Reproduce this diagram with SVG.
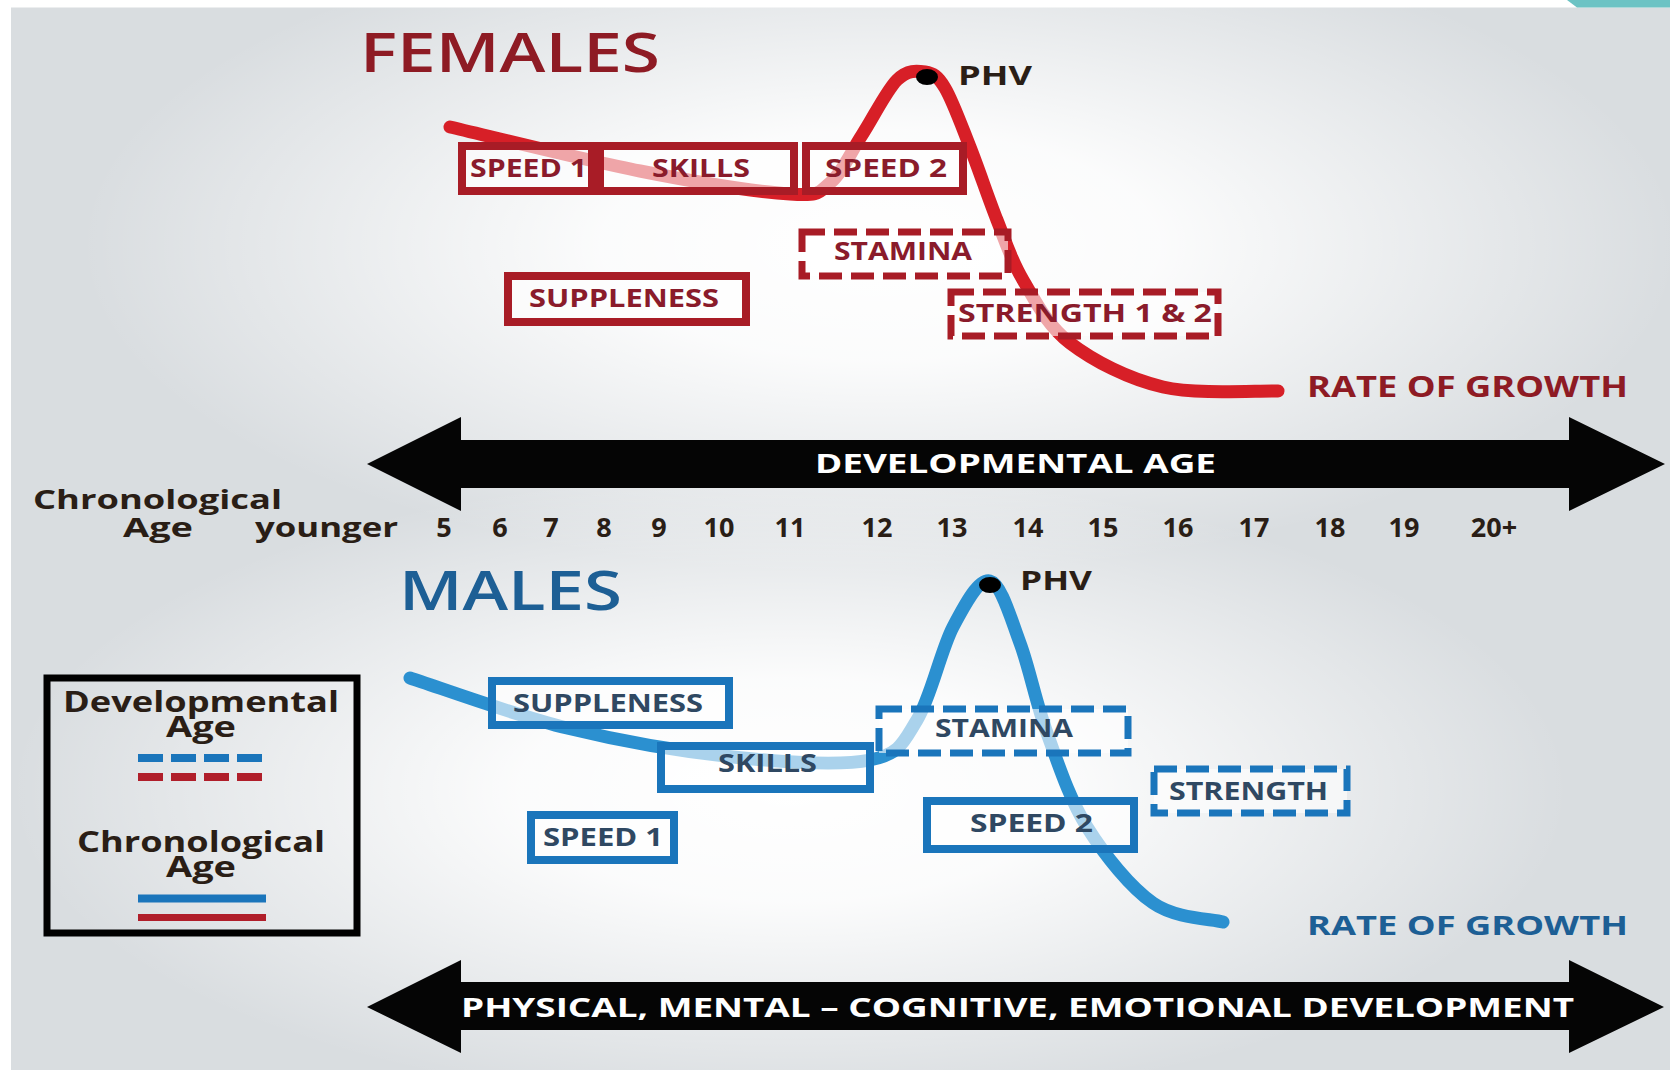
<svg xmlns="http://www.w3.org/2000/svg" width="1670" height="1070" viewBox="0 0 1670 1070">
<defs>
<radialGradient id="glow" cx="0.5" cy="0.5" r="0.5">
<stop offset="0" stop-color="#ffffff" stop-opacity="1"/>
<stop offset="0.35" stop-color="#ffffff" stop-opacity="0.9"/>
<stop offset="1" stop-color="#ffffff" stop-opacity="0"/>
</radialGradient>
<style>
.t{font-family:"Open Sans","Noto Sans","Liberation Sans",sans-serif;font-weight:700}
.title{font-family:"Open Sans","Noto Sans","Liberation Sans",sans-serif;font-weight:600;font-size:54px}
.fbox{fill:#ffffff;fill-opacity:0.6;stroke:#a81c26;stroke-width:8}
.mbox{fill:#ffffff;fill-opacity:0.6;stroke:#1a75bb;stroke-width:8}
.dash{stroke-dasharray:23 9;stroke-width:7}
.ft{fill:#8a1b2b;font-size:25px}
.mt{fill:#2f4862;font-size:25px}
.dk{fill:#2a1e16}
.wt{fill:#ffffff}
.curveF{fill:none;stroke:#d71f27;stroke-width:13;stroke-linecap:round}
.curveM{fill:none;stroke:#2b90d0;stroke-width:13;stroke-linecap:round}
</style>
</defs>
<g id="background">
<rect x="0" y="0" width="1670" height="1070" fill="#ffffff"/>
<rect x="11" y="7.5" width="1659" height="1062.5" fill="#d9dde0"/>
<ellipse cx="880" cy="245" rx="800" ry="330" fill="url(#glow)"/>
<ellipse cx="790" cy="790" rx="780" ry="320" fill="url(#glow)"/>
<polygon points="1567,0 1670,0 1670,7.5 1577,7.5" fill="#6cc3c4"/>
</g>
<g id="connectors">
<path class="curveF" d="M450,127 C481.7,134.3 583.3,159.8 640,171 C696.7,182.2 758.3,192 790,194 C821.7,196 818,192.8 830,183 C842,173.2 850.8,152.2 862,135 C873.2,117.8 886.5,90.5 897,80 C907.5,69.5 917,70.7 925,72 C933,73.3 937.5,75.5 945,88 C952.5,100.5 961.3,125 970,147 C978.7,169 988.2,197.8 997,220 C1005.8,242.2 1010.8,259.5 1023,280 C1035.2,300.5 1046.7,325.2 1070,343 C1093.3,360.8 1128.3,379 1163,387 C1197.7,395 1258.8,390.3 1278,391"/>
<path class="curveM" d="M410,678 C436.2,686.3 513.2,714.8 567,728 C620.8,741.2 682.5,751.7 733,757 C783.5,762.3 839.3,766.2 870,760 C900.7,753.8 903.2,742.2 917,720 C930.8,697.8 940.8,650.2 953,627 C965.2,603.8 978.8,578.3 990,581 C1001.2,583.7 1010.5,617.7 1020,643 C1029.5,668.3 1035.8,702.3 1047,733 C1058.2,763.7 1069.3,798.7 1087,827 C1104.7,855.3 1130.3,887.2 1153,903 C1175.7,918.8 1211.3,918.8 1223,922"/>
</g>
<g id="females-title"><text class="title" x="360" y="72" fill="#8e1b24" textLength="300" lengthAdjust="spacingAndGlyphs">FEMALES</text></g>
<g id="f-phv">
<ellipse cx="927" cy="77" rx="11" ry="8" fill="#000"/>
<text class="t dk" x="958" y="85" font-size="27" textLength="74" lengthAdjust="spacingAndGlyphs">PHV</text>
</g>
<g id="f-speed1"><rect class="fbox" x="462" y="146" width="130" height="45"/><text class="t ft" x="470" y="177" textLength="117" lengthAdjust="spacingAndGlyphs">SPEED 1</text></g>
<g id="f-skills"><rect class="fbox" x="600" y="146" width="194" height="45"/><text class="t ft" x="652" y="177" textLength="98" lengthAdjust="spacingAndGlyphs">SKILLS</text></g>
<g id="f-speed2"><rect class="fbox" x="806" y="146" width="157" height="45"/><text class="t ft" x="825" y="177" textLength="122" lengthAdjust="spacingAndGlyphs">SPEED 2</text></g>
<g id="f-stamina"><rect class="fbox dash" x="802" y="232" width="206" height="44"/><text class="t ft" x="834" y="260" textLength="138" lengthAdjust="spacingAndGlyphs">STAMINA</text></g>
<g id="f-suppleness"><rect class="fbox" x="508" y="276" width="238" height="46"/><text class="t ft" x="529" y="307" textLength="190" lengthAdjust="spacingAndGlyphs">SUPPLENESS</text></g>
<g id="f-strength"><rect class="fbox dash" x="951" y="292" width="267" height="44"/><text class="t ft" x="958" y="322" textLength="254" lengthAdjust="spacingAndGlyphs">STRENGTH 1 &amp; 2</text></g>
<g id="f-rate"><text class="t" x="1307" y="397" font-size="28" fill="#8e1b24" textLength="321" lengthAdjust="spacingAndGlyphs">RATE OF GROWTH</text></g>
<g id="arrow-dev">
<polygon points="367,464 461,417 461,440 1569,440 1569,417 1665,464 1569,511 1569,488 461,488 461,511" fill="#050505"/>
<text class="t wt" x="815" y="473" font-size="26" textLength="401" lengthAdjust="spacingAndGlyphs">DEVELOPMENTAL AGE</text>
</g>
<g id="chrono-row" class="t dk" font-size="27">
<text x="33" y="509" textLength="249" lengthAdjust="spacingAndGlyphs">Chronological</text>
<text x="123" y="537" textLength="70" lengthAdjust="spacingAndGlyphs">Age</text>
<text x="255" y="537" textLength="143" lengthAdjust="spacingAndGlyphs">younger</text>
<g text-anchor="middle">
<text x="444" y="537">5</text>
<text x="500" y="537">6</text>
<text x="551" y="537">7</text>
<text x="604" y="537">8</text>
<text x="659" y="537">9</text>
<text x="719" y="537">10</text>
<text x="790" y="537">11</text>
<text x="877" y="537">12</text>
<text x="952" y="537">13</text>
<text x="1028" y="537">14</text>
<text x="1103" y="537">15</text>
<text x="1178" y="537">16</text>
<text x="1254" y="537">17</text>
<text x="1330" y="537">18</text>
<text x="1404" y="537">19</text>
<text x="1494" y="537">20+</text>
</g>
</g>
<g id="males-title"><text class="title" x="399" y="610" fill="#1d5f95" textLength="223" lengthAdjust="spacingAndGlyphs">MALES</text></g>
<g id="m-phv">
<ellipse cx="990" cy="585" rx="11" ry="8" fill="#000"/>
<text class="t dk" x="1020" y="590" font-size="27" textLength="72" lengthAdjust="spacingAndGlyphs">PHV</text>
</g>
<g id="m-suppleness"><rect class="mbox" x="492" y="681" width="237" height="44"/><text class="t mt" x="513" y="712" textLength="190" lengthAdjust="spacingAndGlyphs">SUPPLENESS</text></g>
<g id="m-skills"><rect class="mbox" x="661" y="746" width="209" height="43"/><text class="t mt" x="718" y="772" textLength="99" lengthAdjust="spacingAndGlyphs">SKILLS</text></g>
<g id="m-speed1"><rect class="mbox" x="531" y="815" width="143" height="45"/><text class="t mt" x="543" y="846" textLength="120" lengthAdjust="spacingAndGlyphs">SPEED 1</text></g>
<g id="m-stamina"><rect class="mbox dash" x="879" y="709" width="249" height="44"/><text class="t mt" x="935" y="737" textLength="138" lengthAdjust="spacingAndGlyphs">STAMINA</text></g>
<g id="m-speed2"><rect class="mbox" x="927" y="801" width="207" height="48"/><text class="t mt" x="970" y="832" textLength="123" lengthAdjust="spacingAndGlyphs">SPEED 2</text></g>
<g id="m-strength"><rect class="mbox dash" x="1154" y="769" width="193" height="44"/><text class="t mt" x="1169" y="800" textLength="159" lengthAdjust="spacingAndGlyphs">STRENGTH</text></g>
<g id="m-rate"><text class="t" x="1307" y="935" font-size="27" fill="#1d5f95" textLength="321" lengthAdjust="spacingAndGlyphs">RATE OF GROWTH</text></g>
<g id="legend">
<rect x="47" y="678" width="310" height="255" fill="none" stroke="#000" stroke-width="7"/>
<g class="t dk" font-size="28" text-anchor="middle">
<text x="201" y="712" textLength="276" lengthAdjust="spacingAndGlyphs">Developmental</text>
<text x="201" y="737" textLength="70" lengthAdjust="spacingAndGlyphs">Age</text>
<text x="201" y="852" textLength="248" lengthAdjust="spacingAndGlyphs">Chronological</text>
<text x="201" y="877" textLength="70" lengthAdjust="spacingAndGlyphs">Age</text>
</g>
<line x1="138" y1="758" x2="262" y2="758" stroke="#1a75bb" stroke-width="8" stroke-dasharray="25 8"/>
<line x1="138" y1="777" x2="262" y2="777" stroke="#b01e2a" stroke-width="8" stroke-dasharray="25 8"/>
<line x1="138" y1="898.5" x2="266" y2="898.5" stroke="#1a75bb" stroke-width="8"/>
<line x1="138" y1="917.5" x2="266" y2="917.5" stroke="#b01e2a" stroke-width="7"/>
</g>
<g id="arrow-phys">
<polygon points="367,1007 461,960 461,982 1569,982 1569,960 1664,1007 1569,1053 1569,1030 461,1030 461,1053" fill="#050505"/>
<text class="t wt" x="461" y="1017" font-size="27" textLength="1113" lengthAdjust="spacingAndGlyphs">PHYSICAL, MENTAL – COGNITIVE, EMOTIONAL DEVELOPMENT</text>
</g>
</svg>
